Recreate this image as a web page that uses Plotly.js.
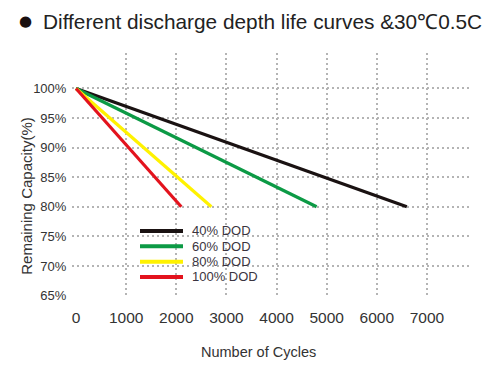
<!DOCTYPE html>
<html>
<head>
<meta charset="utf-8">
<script src="https://cdn.plot.ly/plotly-3.0.1.min.js"></script>
<style>html,body{margin:0;padding:0;background:#fff;}#chart{width:500px;height:375px;}</style>
</head>
<body>
<div id="chart"></div>
<script>
// Data
const seriesNames = ["40% DOD", "60% DOD", "80% DOD", "100% DOD"];
const cycles40 = [0, 6600];
const capacity40 = [100, 80];
const cycles60 = [0, 4800];
const capacity60 = [100, 80];
const cycles80 = [0, 2700];
const capacity80 = [100, 80];
const cycles100 = [0, 2100];
const capacity100 = [100, 80];
const xTickVals = [0, 1000, 2000, 3000, 4000, 5000, 6000, 7000];
const xTickText = ["0", "1000", "2000", "3000", "4000", "5000", "6000", "7000"];
const yTickVals = [65, 70, 75, 80, 85, 90, 95, 100];
const yTickText = ["65%", "70%", "75%", "80%", "85%", "90%", "95%", "100%"];

const colors = ["#1a1212", "#0c9a45", "#fff200", "#e3131d"];
const xs = [cycles40, cycles60, cycles80, cycles100];
const ys = [capacity40, capacity60, capacity80, capacity100];

const FAM = "Liberation Sans, Arial, sans-serif";
const grid = {color: "#b4b4b4", width: 2, dash: "2px,3px"};

// invisible trace to carry the grid axes (drawn first)
const traces = [{x: [], y: [], xaxis: "x2", yaxis: "y2", showlegend: false, hoverinfo: "skip", mode: "lines"}];
seriesNames.forEach((n, i) => traces.push({
  x: xs[i], y: ys[i], name: n, type: "scatter", mode: "lines",
  line: {color: colors[i], width: 3.2}, showlegend: false
}));

// Custom legend (line samples + labels), laid out in paper coordinates
const legX0 = 0.17, legX1 = 0.2775, legTextX = 0.295, legY0 = 0.2705, legDY = 0.0628;
const shapes = [];
const annotations = [];
seriesNames.forEach((n, i) => {
  const yy = legY0 - i * legDY;
  shapes.push({type: "line", xref: "paper", yref: "paper", x0: legX0, x1: legX1, y0: yy, y1: yy,
               line: {color: colors[i], width: 4}});
  annotations.push({text: n, xref: "paper", yref: "paper", x: legTextX, y: yy, xanchor: "left",
                    yanchor: "middle", showarrow: false, font: {size: 13, color: "#3a3440", family: FAM}});
});
annotations.push({
  text: "●", xref: "paper", yref: "paper", x: -0.1175, y: 1.13, xanchor: "center", yanchor: "middle",
  showarrow: false, font: {size: 15, color: "#1a1010", family: "DejaVu Sans, sans-serif"}
});
annotations.push({
  text: "Different discharge depth life curves &amp;30℃0.5C",
  xref: "paper", yref: "paper", x: -0.0775, y: 1.13, xanchor: "left", yanchor: "middle",
  showarrow: false, font: {size: 20.8, color: "#222", family: FAM}
});
annotations.push({
  text: "Number of Cycles", xref: "paper", yref: "paper", x: 0.465, y: -0.225,
  xanchor: "center", yanchor: "middle", showarrow: false, font: {size: 14.5, color: "#333", family: FAM}
});
annotations.push({
  text: "Remaining Capacity(%)", xref: "paper", yref: "paper", x: -0.1125, y: 0.415, textangle: -90,
  xanchor: "center", yanchor: "middle", showarrow: false, font: {size: 15, color: "#333", family: FAM}
});

const layout = {
  width: 500, height: 375,
  margin: {l: 72, r: 28, t: 53, b: 78},
  paper_bgcolor: "#fff", plot_bgcolor: "#fff",
  font: {family: FAM, color: "#333"},
  showlegend: false,
  xaxis: {range: [-80, 7900], tickvals: xTickVals, ticktext: xTickText, showgrid: false,
          zeroline: false, showline: false, ticks: "outside", ticklen: 6, tickcolor: "rgba(0,0,0,0)",
          tickfont: {size: 15.5, color: "#333", family: FAM}},
  yaxis: {range: [64.75, 106], tickvals: yTickVals, ticktext: yTickText, showgrid: false,
          zeroline: false, showline: false, ticks: "outside", ticklen: 2, tickcolor: "rgba(0,0,0,0)",
          tickfont: {size: 13, color: "#333", family: FAM}},
  xaxis2: {overlaying: "x", matches: "x", tickvals: xTickVals.slice(1), showticklabels: false,
           showgrid: true, gridcolor: grid.color, gridwidth: grid.width, griddash: grid.dash, zeroline: false},
  yaxis2: {overlaying: "y", matches: "y", tickvals: yTickVals.slice(1), showticklabels: false,
           showgrid: true, gridcolor: grid.color, gridwidth: grid.width, griddash: grid.dash, zeroline: false},
  shapes: shapes,
  annotations: annotations
};
Plotly.newPlot("chart", traces, layout, {displayModeBar: false, staticPlot: true});
</script>
</body>
</html>
